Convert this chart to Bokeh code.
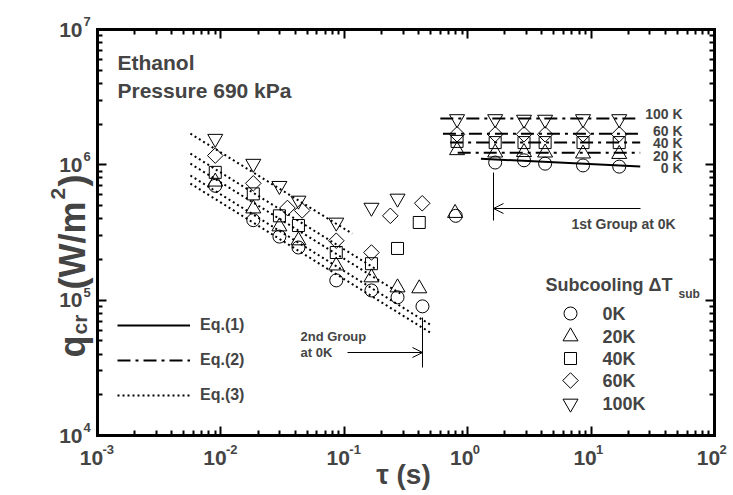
from bokeh.plotting import figure
from bokeh.models import (LogAxis, FixedTicker, ColumnDataSource, LabelSet, Label,
                          Arrow, OpenHead, Legend, LegendItem, Range1d)
from bokeh.core.properties import value
from bokeh.embed import file_html
from bokeh.resources import INLINE
import math

# ---------------- data ----------------
tau_0K = [0.0090, 0.0183, 0.0298, 0.0425, 0.0861, 0.166, 0.27, 0.43, 0.80, 1.67, 2.86, 4.24, 8.6, 16.9]
q_0K = [7.0e5, 3.9e5, 2.95e5, 2.45e5, 1.40e5, 1.18e5, 1.05e5, 9.0e4, 4.2e5, 1.04e6, 1.08e6, 1.02e6, 9.9e5, 9.7e5]

tau_20K = [0.0090, 0.0183, 0.0298, 0.0425, 0.0861, 0.166, 0.27, 0.405, 0.79, 0.82, 1.67, 2.86, 4.24, 8.6, 16.9]
q_20K = [7.5e5, 4.75e5, 3.5e5, 2.76e5, 1.80e5, 1.47e5, 1.24e5, 1.22e5, 4.4e5, 1.28e6, 1.23e6, 1.24e6, 1.23e6, 1.21e6, 1.20e6]

tau_40K = [0.0090, 0.0183, 0.0298, 0.0425, 0.0861, 0.166, 0.27, 0.405, 0.82, 1.67, 2.86, 4.24, 8.6, 16.9]
q_40K = [8.8e5, 6.1e5, 4.2e5, 3.56e5, 2.25e5, 1.86e5, 2.41e5, 3.75e5, 1.49e6, 1.46e6, 1.46e6, 1.46e6, 1.46e6, 1.46e6]

tau_60K = [0.0090, 0.0183, 0.0346, 0.0455, 0.0861, 0.166, 0.236, 0.428, 0.82, 1.67, 2.86, 4.24, 8.6, 16.9]
q_60K = [1.17e6, 7.3e5, 4.8e5, 4.6e5, 2.75e5, 2.25e5, 4.2e5, 5.2e5, 1.68e6, 1.68e6, 1.68e6, 1.68e6, 1.68e6, 1.68e6]

tau_100K = [0.0090, 0.0183, 0.0298, 0.0425, 0.0861, 0.166, 0.27, 0.82, 1.67, 2.86, 4.24, 8.6, 16.9]
q_100K = [1.56e6, 1.02e6, 7.0e5, 5.45e5, 3.75e5, 4.83e5, 5.64e5, 2.18e6, 2.18e6, 2.16e6, 2.16e6, 2.18e6, 2.18e6]

# Eq.(3) dotted correlation lines (second group), start/end points
eq3_tau = [[0.00566, 0.116], [0.00566, 0.178], [0.00566, 0.284], [0.00566, 0.496], [0.00566, 0.496]]
eq3_q = [[1.70e6, 3.10e5], [1.21e6, 1.71e5], [1.02e6, 1.12e5], [8.34e5, 6.61e4], [7.27e5, 5.77e4]]

# Eq.(2) dash-dot lines (first group, subcooled) 100K, 60K, 40K, 20K
eq2_tau = [[0.60, 25.0], [0.63, 25.0], [0.72, 25.0], [0.83, 25.0]]
eq2_q = [[2.20e6, 2.20e6], [1.70e6, 1.70e6], [1.46e6, 1.46e6], [1.23e6, 1.23e6]]

# Eq.(1) solid line (first group, 0K)
eq1_tau = [1.28, 25.0]
eq1_q = [1.11e6, 0.97e6]

line_labels = ["100 K", "60 K", "40 K", "20 K", "0 K"]
line_label_q = [2.36e6, 1.79e6, 1.46e6, 1.17e6, 9.4e5]

x_lo, x_hi = 1e-3, 1e2
y_lo, y_hi = 1e4, 1e7
x_ticks = [1e-3, 1e-2, 1e-1, 1e0, 1e1, 1e2]
x_exps = ["-3", "-2", "-1", "0", "1", "2"]
y_ticks = [1e4, 1e5, 1e6, 1e7]
y_exps = ["4", "5", "6", "7"]

series_names = ["0K", "20K", "40K", "60K", "100K"]

# ---------------- layout helpers (annotation placement only) ----------------
FONT = "Liberation Sans"
W, H = 733, 495
FL, FT, FW, FH = 97, 29, 617, 406  # axes box position in the window (px)
LX0, LX1 = math.log10(x_lo), math.log10(x_hi)
LY0, LY1 = math.log10(y_lo), math.log10(y_hi)


def at_x(px):
    return 10 ** (LX0 + (px - FL) / FW * (LX1 - LX0))


def at_y(py):
    return 10 ** (LY1 - (py - FT) / FH * (LY1 - LY0))


p = figure(x_axis_type="log", y_axis_type="log",
           x_range=Range1d(at_x(0), at_x(W)), y_range=Range1d(at_y(H), at_y(0)),
           width=W, height=H, min_border=0,
           x_axis_location=None, y_axis_location=None,
           output_backend="svg", toolbar_location=None)
p.grid.visible = False
p.outline_line_color = None
p.background_fill_color = "white"
p.border_fill_color = "white"

x_minor = [m * 10 ** k for k in range(round(LX0), round(LX1)) for m in range(2, 10)]
y_minor = [m * 10 ** k for k in range(round(LY0), round(LY1)) for m in range(2, 10)]

axes = [
    (LogAxis(fixed_location=y_lo, bounds=(x_lo, x_hi)), "below", x_ticks, x_minor),
    (LogAxis(fixed_location=y_hi, bounds=(x_lo, x_hi)), "above", x_ticks, x_minor),
    (LogAxis(fixed_location=x_lo, bounds=(y_lo, y_hi)), "left", y_ticks, y_minor),
    (LogAxis(fixed_location=x_hi, bounds=(y_lo, y_hi)), "right", y_ticks, y_minor),
]
for ax, side, maj, mino in axes:
    ax.ticker = FixedTicker(ticks=maj, minor_ticks=mino)
    ax.axis_line_width = 3
    ax.axis_line_color = "black"
    ax.axis_line_cap = "square"
    ax.major_tick_in = 9
    ax.major_tick_out = 0
    ax.major_tick_line_width = 2
    ax.minor_tick_in = 5
    ax.minor_tick_out = 0
    ax.minor_tick_line_width = 2
    ax.major_label_text_font_size = "1px"
    ax.major_label_text_alpha = 0
    ax.major_label_standoff = 0
    p.add_layout(ax, side)

# ---------------- correlation lines ----------------
dot_r = None
for t, q in zip(eq3_tau, eq3_q):
    dot_r = p.line(t, q, line_color="black", line_width=2, line_dash="2 3")
dd_r = None
for t, q in zip(eq2_tau, eq2_q):
    dd_r = p.line(t, q, line_color="black", line_width=2, line_dash="13 5 3 5")
sol_r = p.line(eq1_tau, eq1_q, line_color="black", line_width=2)

# ---------------- data markers ----------------
mk = dict(line_color="black", line_width=1, fill_color=None)
p.scatter(tau_0K, q_0K, marker="circle", size=13, **mk)
p.scatter(tau_20K, q_20K, marker="triangle", size=15, **mk)
p.scatter(tau_40K, q_40K, marker="square", size=12, **mk)
p.scatter(tau_60K, q_60K, marker="square", size=11, angle=math.pi / 4, **mk)
p.scatter(tau_100K, q_100K, marker="inverted_triangle", size=15, **mk)

# ---------------- Eq legend ----------------
leg = Legend(items=[LegendItem(label="Eq.(1)", renderers=[sol_r]),
                    LegendItem(label="Eq.(2)", renderers=[dd_r]),
                    LegendItem(label="Eq.(3)", renderers=[dot_r])],
             location=(117, 90), padding=0, margin=0, spacing=15,
             glyph_width=73, glyph_height=20, label_height=20, label_standoff=10,
             label_text_font=FONT, label_text_font_style="bold", label_text_font_size="16px",
             border_line_alpha=0, background_fill_alpha=0)
p.add_layout(leg)

# ---------------- marker legend (Subcooling) ----------------
leg_rows = [313, 336, 358, 380, 403]
leg_x = at_x(570)
leg_markers = [("circle", 13, 0), ("triangle", 15, 0), ("square", 12, 0), ("square", 11, math.pi / 4),
               ("inverted_triangle", 15, 0)]
for (m, s, a), row, name in zip(leg_markers, leg_rows, series_names):
    p.scatter([leg_x], [at_y(row)], marker=m, size=s, angle=a, **mk)
    p.add_layout(Label(x=at_x(602), y=at_y(row), text=name, text_align="left", text_baseline="middle",
                       text_font=FONT, text_font_style="bold", text_font_size="18px"))
p.add_layout(Label(x=at_x(545), y=at_y(284), text="Subcooling \u0394T", text_align="left",
                   text_baseline="middle", text_font=FONT, text_font_style="bold", text_font_size="18px"))
p.add_layout(Label(x=at_x(678), y=at_y(293), text="sub", text_align="left",
                   text_baseline="middle", text_font=FONT, text_font_style="bold", text_font_size="12px"))

# ---------------- line labels on the right ----------------
p.add_layout(LabelSet(source=ColumnDataSource(dict(x=[at_x(682)] * len(line_labels), y=line_label_q,
                                                   t=line_labels)),
                      x="x", y="y", text="t", text_align="right", text_baseline="middle",
                      text_font=value(FONT), text_font_style="bold", text_font_size="14px"))


# ---------------- texts ----------------
def txt(px, py, s, size, align="left", angle=0, baseline="middle"):
    p.add_layout(Label(x=at_x(px), y=at_y(py), text=s, text_align=align, text_baseline=baseline,
                       angle=angle, angle_units="deg",
                       text_font=FONT, text_font_style="bold", text_font_size=size))


txt(117, 62, "Ethanol", "21px")
txt(117, 90, "Pressure 690 kPa", "21px")
txt(623, 223, "1st Group at 0K", "14px", "center")
txt(300, 336, "2nd Group", "13px")
txt(300, 352, "at 0K", "13px")

# arrows and group markers
p.add_layout(Arrow(end=OpenHead(size=10, line_width=1), x_start=at_x(640), y_start=at_y(208),
                   x_end=at_x(493), y_end=at_y(208), line_width=1))
p.add_layout(Arrow(end=None, x_start=at_x(493), y_start=at_y(172), x_end=at_x(493), y_end=at_y(220),
                   line_width=1))
p.add_layout(Arrow(end=OpenHead(size=10, line_width=1), x_start=at_x(347), y_start=at_y(352),
                   x_end=at_x(422), y_end=at_y(352), line_width=1))
p.add_layout(Arrow(end=None, x_start=at_x(422), y_start=at_y(317), x_end=at_x(422), y_end=at_y(367),
                   line_width=1))

# ---------------- tick labels ----------------
tick_style = dict(text_font=value(FONT), text_font_style="bold", text_baseline="middle")
p.add_layout(LabelSet(source=ColumnDataSource(dict(x=x_ticks, y=[y_lo] * len(x_ticks),
                                                   t=["10"] * len(x_ticks))),
                      x="x", y="y", text="t", x_offset=-6, y_offset=-22, text_align="center",
                      text_font_size="21px", **tick_style))
p.add_layout(LabelSet(source=ColumnDataSource(dict(x=x_ticks, y=[y_lo] * len(x_ticks), t=x_exps)),
                      x="x", y="y", text="t", x_offset=5, y_offset=-14, text_align="left",
                      text_font_size="13px", **tick_style))
p.add_layout(LabelSet(source=ColumnDataSource(dict(x=[x_lo] * len(y_ticks), y=y_ticks,
                                                   t=["10"] * len(y_ticks))),
                      x="x", y="y", text="t", x_offset=-15, y_offset=0, text_align="right",
                      text_font_size="21px", **tick_style))
p.add_layout(LabelSet(source=ColumnDataSource(dict(x=[x_lo] * len(y_ticks), y=y_ticks, t=y_exps)),
                      x="x", y="y", text="t", x_offset=-14, y_offset=8, text_align="left",
                      text_font_size="13px", **tick_style))

# ---------------- axis titles ----------------
txt(403, 474, "\u03c4 (s)", "28px", "center")
txt(72, 357, "q", "36px", "left", 90, "alphabetic")
txt(79, 334, "cr", "21px", "left", 90, "alphabetic")
txt(72, 289, "(W/m", "36px", "left", 90, "alphabetic")
txt(57, 199, "2", "21px", "left", 90, "alphabetic")
txt(72, 186, ")", "36px", "left", 90, "alphabetic")

open("out.html", "w").write(file_html(p, INLINE))
